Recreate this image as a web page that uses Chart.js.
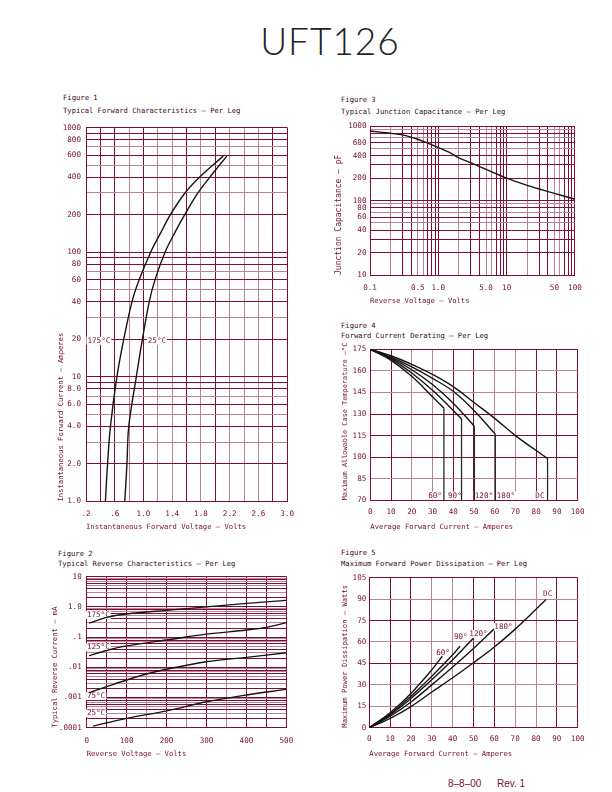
<!DOCTYPE html>
<html>
<head>
<meta charset="utf-8">
<script src="https://cdn.jsdelivr.net/npm/chart.js@4.4.0/dist/chart.umd.min.js"></script>
<style>
  html, body { margin: 0; padding: 0; background: #fff; }
  body { width: 612px; height: 792px; position: relative; overflow: hidden; }
  .t { position: absolute; white-space: pre; font-family: 'DejaVu Sans Mono', 'Liberation Mono', monospace;
       font-size: 7.2px; line-height: 7.2px; color: #3a0818; }
  .foot { position: absolute; white-space: pre; font-family: 'Liberation Sans', Arial, sans-serif;
          font-size: 10px; line-height: 10px; color: #7a1035; }
  #title { position: absolute; left: 200px; width: 260px; top: 22px; text-align: center;
           font-family: 'Lato', 'Open Sans', sans-serif; font-weight: 300; font-size: 37px;
           line-height: 37px; color: #222; letter-spacing: 1px; }
  canvas { position: absolute; }
</style>
</head>
<body>
<div id="title">UFT126</div>

<div class="t" style="left:63px;top:94px">Figure 1</div>
<div class="t" style="left:63px;top:107px">Typical Forward Characteristics — Per Leg</div>
<div class="t" style="left:341px;top:96px">Figure 3</div>
<div class="t" style="left:341px;top:108px">Typical Junction Capacitance — Per Leg</div>
<div class="t" style="left:341px;top:322px">Figure 4</div>
<div class="t" style="left:341px;top:332px">Forward Current Derating — Per Leg</div>
<div class="t" style="left:58px;top:550px">Figure 2</div>
<div class="t" style="left:58px;top:560px">Typical Reverse Characteristics — Per Leg</div>
<div class="t" style="left:341px;top:549px">Figure 5</div>
<div class="t" style="left:341px;top:560px">Maximum Forward Power Dissipation — Per Leg</div>

<div class="foot" style="left:448px;top:779px">8–8–00</div>
<div class="foot" style="left:497px;top:779px">Rev. 1</div>

<canvas id="fig1"></canvas>
<canvas id="fig2"></canvas>
<canvas id="fig3"></canvas>
<canvas id="fig4"></canvas>
<canvas id="fig5"></canvas>

<script>
(function () {
  const INK = '#740d32';
  const DARK = '#7f0c36';
  const PINK = '#bb8396';
  const CURVE = '#151515';
  const FONT = { family: "'DejaVu Sans Mono', 'Liberation Mono', monospace", size: 7.2 };
  const TICK_FONT = { family: FONT.family, size: 7.6 };

  // --- Figure 1: forward characteristics (amps vs volts) ---
  const F1_AMPS = [1, 2, 4, 10, 20, 40, 60, 100, 145, 200, 300, 400, 590];
  const F1_VOLTS_175 = [0.47, 0.50, 0.54, 0.63, 0.725, 0.84, 0.94, 1.10, 1.245, 1.375, 1.58, 1.78, 2.11];
  const F1_VOLTS_25 = [0.74, 0.77, 0.795, 0.90, 0.985, 1.08, 1.16, 1.30, 1.44, 1.575, 1.76, 1.925, 2.16];
  const F1_X_TICKS = [0.2, 0.4, 0.6, 0.8, 1.0, 1.2, 1.4, 1.6, 1.8, 2.0, 2.2, 2.4, 2.6, 2.8, 3.0];
  const F1_X_LABEL_AT = [0.2, 0.6, 1.0, 1.4, 1.8, 2.2, 2.6, 3.0];
  const F1_X_LABELS = ['.2', '.6', '1.0', '1.4', '1.8', '2.2', '2.6', '3.0'];
  const F1_X_PINK = [0.8, 1.2, 1.4, 1.8, 2.2, 2.4, 2.6];
  const F1_Y_LABEL_AT = [1, 2, 4, 6, 8, 10, 20, 40, 60, 80, 100, 200, 400, 600, 800, 1000];
  const F1_Y_LABELS = ['1.0', '2.0', '4.0', '6.0', '8.0', '10', '20', '40', '60', '80', '100', '200', '400', '600', '800', '1000'];
  const F1_TAG_TEXT = ['175°C', '25°C'];
  const F1_TAG_AT = [[0.22, 19.5], [1.06, 19.5]];

  // --- Figure 2: reverse characteristics (mA vs volts) ---
  const F2_V_175 = [6, 50, 100, 200, 300, 400, 500];
  const F2_I_175 = [0.29, 0.45, 0.58, 0.77, 1.0, 1.31, 1.64];
  const F2_V_125 = [6, 50, 100, 200, 300, 400, 450, 500];
  const F2_I_125 = [0.024, 0.036, 0.051, 0.080, 0.125, 0.171, 0.21, 0.30];
  const F2_V_75 = [6, 50, 100, 150, 200, 300, 400, 500];
  const F2_I_75 = [0.00144, 0.00228, 0.0038, 0.006, 0.0086, 0.0153, 0.0213, 0.0304];
  const F2_V_25 = [16, 100, 200, 300, 400, 500];
  const F2_I_25 = [0.000113, 0.000204, 0.00036, 0.00072, 0.00121, 0.00186];
  const F2_X_TICKS = [0, 50, 100, 150, 200, 250, 300, 350, 400, 450, 500];
  const F2_X_LABEL_AT = [0, 100, 200, 300, 400, 500];
  const F2_X_LABELS = ['0', '100', '200', '300', '400', '500'];
  const F2_X_PINK = [150, 250, 350];
  const F2_Y_LABEL_AT = [0.0001, 0.001, 0.01, 0.1, 1, 10];
  const F2_Y_LABELS = ['.0001', '.001', '.01', '.1', '1.0', '10'];
  const F2_TAG_TEXT = ['175°C', '125°C', '75°C', '25°C'];
  const F2_TAG_AT = [[0.5, 0.54], [0.5, 0.046], [0.5, 0.00112], [0.5, 0.0003]];

  // --- Figure 3: junction capacitance (pF vs volts) ---
  const F3_VOLTS = [0.1, 0.2, 0.3, 0.5, 0.7, 1.0, 1.5, 2, 3, 5, 10, 20, 50, 100];
  const F3_PF = [860, 800, 760, 665, 590, 515, 435, 375, 320, 262, 200, 160, 125, 104];
  const F3_X_LABEL_AT = [0.1, 0.5, 1, 5, 10, 50, 100];
  const F3_X_LABELS = ['0.1', '0.5', '1.0', '5.0', '10', '50', '100'];
  const F3_Y_LABEL_AT = [10, 20, 40, 60, 80, 100, 200, 400, 600, 1000];
  const F3_Y_LABELS = ['10', '20', '40', '60', '80', '100', '200', '400', '600', '1000'];

  // --- Figure 4: current derating (case temp vs amps) ---
  const F4_A_60 = [0, 10, 20, 30, 35.5];
  const F4_T_60 = [175, 167.3, 156.2, 142, 134];
  const F4_A_90 = [0, 10, 20, 30, 40, 44];
  const F4_T_90 = [175, 168.2, 158.5, 146.5, 132.5, 126.5];
  const F4_A_120 = [0, 10, 20, 30, 40, 50.2];
  const F4_T_120 = [175, 168.8, 160.8, 150.5, 137.5, 121.5];
  const F4_A_180 = [0, 10, 20, 30, 40, 50, 60.3];
  const F4_T_180 = [175, 169.5, 162.8, 154.8, 145.8, 132.5, 116];
  const F4_A_DC = [0, 10, 20, 30, 40, 50, 60, 70, 85.5];
  const F4_T_DC = [175, 170.5, 164.5, 157.5, 149, 138, 127, 115, 99];
  const F4_X_TICKS = [0, 10, 20, 30, 40, 50, 60, 70, 80, 90, 100];
  const F4_X_PINK = [20, 30, 60, 70];
  const F4_Y_TICKS = [70, 85, 100, 115, 130, 145, 160, 175];
  const F4_Y_PINK = [85, 145, 160];
  const F4_TAG_TEXT = ['60°', '90°', '120°', '180°', 'DC'];
  const F4_TAG_AT = [[31.2, 73.3], [40.8, 73.3], [54.8, 73.3], [65.4, 73.3], [81.8, 73.3]];

  // --- Figure 5: power dissipation (watts vs amps) ---
  const F5_A_60 = [0, 10, 20, 30, 35];
  const F5_W_60 = [0, 10.5, 24, 40.5, 50];
  const F5_A_90 = [0, 10, 20, 30, 40, 43.5];
  const F5_W_90 = [0, 9.7, 22, 36, 51, 57];
  const F5_A_120 = [0, 10, 20, 30, 40, 49.8];
  const F5_W_120 = [0, 9, 20.5, 33.5, 47.5, 62.5];
  const F5_A_180 = [0, 10, 20, 30, 40, 50, 59.8];
  const F5_W_180 = [0, 8, 18, 30, 42.5, 55.5, 69];
  const F5_A_DC = [0, 10, 20, 30, 40, 50, 60, 70, 84.8];
  const F5_W_DC = [0, 6.5, 14.8, 25, 35, 45.5, 56.5, 69, 89.8];
  const F5_X_TICKS = [0, 10, 20, 30, 40, 50, 60, 70, 80, 90, 100];
  const F5_X_PINK = [30, 40, 70, 80];
  const F5_Y_TICKS = [0, 15, 30, 45, 60, 75, 90, 105];
  const F5_Y_PINK = [15, 30, 60, 90];
  const F5_TAG_TEXT = ['60°', '90°', '120°', '180°', 'DC'];
  const F5_TAG_AT = [[35.4, 52.3], [43.9, 63.3], [52.4, 65.6], [64.4, 70.7], [85.6, 93.6]];

  // log gridlines: 1..9 in every decade
  function logGrid (lo, hi) {
    const out = [];
    for (let e = Math.round(Math.log10(lo)); e < Math.round(Math.log10(hi)); e++) {
      for (let m = 1; m < 10; m++) out.push(+(m * Math.pow(10, e)).toPrecision(6));
    }
    out.push(hi);
    return out;
  }
  const same = (a, b) => Math.abs(a - b) <= Math.abs(a) * 1e-6 + 1e-12;
  const mantissa = v => Math.round(v / Math.pow(10, Math.floor(Math.log10(v) + 1e-9)));
  const inList = list => v => list.some(p => same(p, v));
  const byMantissa = list => v => list.includes(mantissa(v));

  function axis (spec) {
    const first = spec.ticks[0];
    const last = spec.ticks[spec.ticks.length - 1];
    return {
      type: spec.type,
      position: spec.position,
      min: first,
      max: last,
      afterBuildTicks: s => { s.ticks = spec.ticks.map(v => ({ value: v })); },
      afterFit: s => {
        if (spec.position === 'left') s.width = spec.size;
        else s.height = spec.size;
      },
      grid: {
        drawTicks: false,
        lineWidth: 1,
        color: c => {
          const v = c.tick ? c.tick.value : NaN;
          if (same(v, first) || same(v, last)) return DARK;
          return spec.pink(v) ? PINK : DARK;
        }
      },
      border: { color: DARK, width: 1 },
      ticks: {
        autoSkip: false,
        maxRotation: 0,
        minRotation: 0,
        padding: spec.pad,
        color: INK,
        font: TICK_FONT,
        callback: v => {
          const i = spec.labelAt.findIndex(p => same(p, v));
          return i < 0 ? '' : spec.labels[i];
        }
      },
      title: {
        display: true, text: spec.title, align: 'start', color: INK, padding: 0,
        font: Object.assign({}, FONT, spec.titleSize ? { size: spec.titleSize } : {})
      }
    };
  }

  function curve (xs, ys) {
    return {
      data: xs.map((x, i) => ({ x, y: ys[i] })),
      borderColor: CURVE,
      borderWidth: 1.4,
      pointRadius: 0,
      fill: false,
      tension: 0.35
    };
  }

  // vertical drop from a curve's last point down to the axis floor
  function drop (xs, ys, floor) {
    const n = xs.length - 1;
    return {
      data: [{ x: xs[n], y: ys[n] }, { x: xs[n], y: floor }],
      borderColor: '#2a2a2a',
      borderWidth: 1.3,
      pointRadius: 0,
      fill: false,
      tension: 0
    };
  }

  function tagPlugin (texts, at, align) {
    return {
      id: 'tags',
      beforeDatasetsDraw (chart) {
        const { ctx, scales: { x, y } } = chart;
        ctx.save();
        ctx.font = TICK_FONT.size + 'px ' + FONT.family;
        ctx.textBaseline = 'middle';
        ctx.textAlign = align;
        texts.forEach((text, i) => {
          const px = x.getPixelForValue(at[i][0]);
          const py = y.getPixelForValue(at[i][1]);
          const w = ctx.measureText(text).width;
          const left = align === 'left' ? px : px - w / 2;
          ctx.fillStyle = '#fff';
          ctx.fillRect(left - 1, py - 4, w + 2, 8);
          ctx.fillStyle = INK;
          ctx.fillText(text, px, py);
        });
        ctx.restore();
      }
    };
  }

  function figure (id, box, plot, datasets, xSpec, ySpec, tags) {
    const cv = document.getElementById(id);
    cv.width = box.x1 - box.x0;
    cv.height = box.y1 - box.y0;
    cv.style.left = box.x0 + 'px';
    cv.style.top = box.y0 + 'px';
    cv.style.width = cv.width + 'px';
    cv.style.height = cv.height + 'px';
    xSpec.position = 'bottom';
    xSpec.size = box.y1 - plot.y1;
    ySpec.position = 'left';
    ySpec.size = plot.x0 - box.x0;
    return new Chart(cv, {
      type: 'line',
      data: { datasets },
      options: {
        responsive: false,
        animation: false,
        devicePixelRatio: 1,
        layout: {
          autoPadding: false,
          padding: { left: 0, top: plot.y0 - box.y0, right: box.x1 - plot.x1, bottom: 0 }
        },
        plugins: { legend: { display: false }, tooltip: { enabled: false } },
        scales: { x: axis(xSpec), y: axis(ySpec) }
      },
      plugins: tags ? [tags] : []
    });
  }

  figure('fig1',
    { x0: 57, y0: 118, x1: 302, y1: 531 },
    { x0: 86, y0: 124.5, x1: 294.5, y1: 501.5 },
    [curve(F1_VOLTS_175, F1_AMPS), curve(F1_VOLTS_25, F1_AMPS)],
    { type: 'linear', ticks: F1_X_TICKS, labelAt: F1_X_LABEL_AT, labels: F1_X_LABELS, pink: inList(F1_X_PINK), pad: 8,
      title: 'Instantaneous Forward Voltage — Volts' },
    { type: 'logarithmic', ticks: logGrid(1, 1000), labelAt: F1_Y_LABEL_AT, labels: F1_Y_LABELS, pink: byMantissa([3, 5, 7]), pad: 5,
      title: 'Instantaneous Forward Current — Amperes' },
    tagPlugin(F1_TAG_TEXT, F1_TAG_AT, 'left'));

  figure('fig2',
    { x0: 51, y0: 566, x1: 302, y1: 758 },
    { x0: 86.7, y0: 576.7, x1: 294.3, y1: 727.7 },
    [curve(F2_V_175, F2_I_175), curve(F2_V_125, F2_I_125), curve(F2_V_75, F2_I_75), curve(F2_V_25, F2_I_25)],
    { type: 'linear', ticks: F2_X_TICKS, labelAt: F2_X_LABEL_AT, labels: F2_X_LABELS, pink: inList(F2_X_PINK), pad: 8.8,
      title: 'Reverse Voltage — Volts' },
    { type: 'logarithmic', ticks: logGrid(0.0001, 10), labelAt: F2_Y_LABEL_AT, labels: F2_Y_LABELS, pink: byMantissa([3, 5, 7, 9]), pad: 5,
      title: 'Typical Reverse Current — mA' },
    tagPlugin(F2_TAG_TEXT, F2_TAG_AT, 'left'));

  figure('fig3',
    { x0: 334, y0: 118, x1: 590, y1: 305 },
    { x0: 370, y0: 124.3, x1: 577.3, y1: 275 },
    [curve(F3_VOLTS, F3_PF)],
    { type: 'logarithmic', ticks: logGrid(0.1, 100), labelAt: F3_X_LABEL_AT, labels: F3_X_LABELS, pink: byMantissa([2, 5, 6]), pad: 8.2,
      title: 'Reverse Voltage — Volts' },
    { type: 'logarithmic', ticks: logGrid(10, 1000), labelAt: F3_Y_LABEL_AT, labels: F3_Y_LABELS, pink: byMantissa([5, 7, 9]), pad: 3.5,
      title: 'Junction Capacitance — pF', titleSize: 8 },
    null);

  figure('fig4',
    { x0: 341, y0: 338, x1: 592, y1: 531 },
    { x0: 370.3, y0: 349.3, x1: 577.7, y1: 500.3 },
    [curve(F4_A_60, F4_T_60), curve(F4_A_90, F4_T_90), curve(F4_A_120, F4_T_120), curve(F4_A_180, F4_T_180), curve(F4_A_DC, F4_T_DC),
      drop(F4_A_60, F4_T_60, 70), drop(F4_A_90, F4_T_90, 70), drop(F4_A_120, F4_T_120, 70), drop(F4_A_180, F4_T_180, 70), drop(F4_A_DC, F4_T_DC, 70)],
    { type: 'linear', ticks: F4_X_TICKS, labelAt: F4_X_TICKS, labels: F4_X_TICKS.map(String), pink: inList(F4_X_PINK), pad: 7.5,
      title: 'Average Forward Current — Amperes' },
    { type: 'linear', ticks: F4_Y_TICKS, labelAt: F4_Y_TICKS, labels: F4_Y_TICKS.map(String), pink: inList(F4_Y_PINK), pad: 4,
      title: 'Maximum Allowable Case Temperature —°C', titleSize: 6.9 },
    tagPlugin(F4_TAG_TEXT, F4_TAG_AT, 'center'));

  figure('fig5',
    { x0: 341, y0: 566, x1: 592, y1: 758 },
    { x0: 369.3, y0: 577.7, x1: 577.7, y1: 727.7 },
    [curve(F5_A_60, F5_W_60), curve(F5_A_90, F5_W_90), curve(F5_A_120, F5_W_120), curve(F5_A_180, F5_W_180), curve(F5_A_DC, F5_W_DC)],
    { type: 'linear', ticks: F5_X_TICKS, labelAt: F5_X_TICKS, labels: F5_X_TICKS.map(String), pink: inList(F5_X_PINK), pad: 7.1,
      title: 'Average Forward Current — Amperes' },
    { type: 'linear', ticks: F5_Y_TICKS, labelAt: F5_Y_TICKS, labels: F5_Y_TICKS.map(String), pink: inList(F5_Y_PINK), pad: 3,
      title: 'Maximum Power Dissipation — Watts' },
    tagPlugin(F5_TAG_TEXT, F5_TAG_AT, 'center'));
})();
</script>
</body>
</html>
